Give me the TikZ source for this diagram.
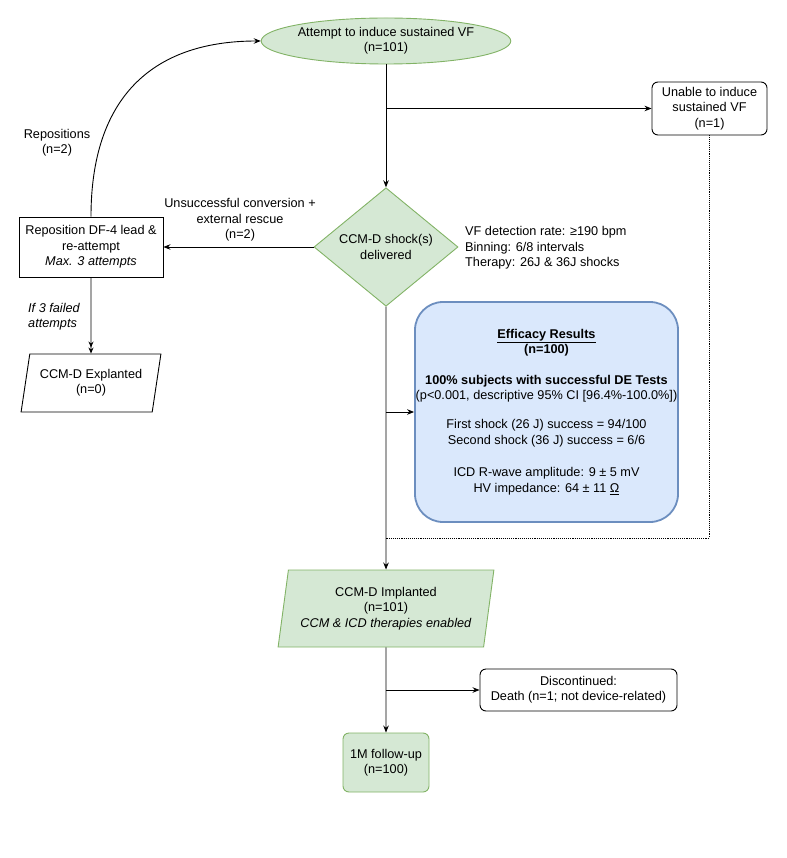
\documentclass[tikz,border=0pt]{standalone}
\usepackage{fontspec}
\setmainfont{Liberation Sans}
\usetikzlibrary{shapes.geometric,arrows.meta}
\definecolor{gfill}{HTML}{D5E8D4}
\definecolor{gline}{HTML}{82B366}
\definecolor{bfill}{HTML}{DAE8FC}
\definecolor{bline}{HTML}{6C8EBF}
\begin{document}
\begin{tikzpicture}[x=1pt,y=-1pt,
  every node/.style={font=\fontsize{12.7}{15.3}\selectfont, align=center, inner sep=0pt},
  arr/.style={-{Stealth[length=7pt,width=5.5pt]}, line width=0.9pt},
  plain/.style={line width=0.9pt},
  greenell/.style={ellipse, draw=gline, fill=gfill, line width=0.9pt},
  greendia/.style={diamond, draw=gline, fill=gfill, line width=0.9pt},
  whitebox/.style={rectangle, draw=black, line width=0.9pt, fill=white},
  roundbox/.style={rectangle, rounded corners=6pt, draw=black, line width=0.9pt, fill=white},
  greenround/.style={rectangle, rounded corners=6pt, draw=gline, fill=gfill, line width=0.9pt},
  bluebox/.style={rectangle, rounded corners=28pt, draw=bline, fill=bfill, line width=1.8pt},
  para/.style={trapezium, trapezium stretches=true, line width=0.9pt},
  lbl/.style={}
]
\useasboundingbox (0,0) rectangle (786,858);

\node[greenell, minimum width=228, minimum height=46] (ell) at (386,41)
  {Attempt to induce sustained VF\\(n=101)};
\node[roundbox, minimum width=115, minimum height=53] (unable) at (709.5,108.5)
  {Unable to induce\\sustained VF\\(n=1)};
\node[greendia, minimum width=144, minimum height=93] (dia) at (386,247)
  {CCM-D shock(s)\\delivered};
\node[anchor=west, align=left] (vfinfo) at (465,248)
  {VF detection rate: ≥190 bpm\\Binning: 6/8 intervals\\Therapy: 26J \& 36J shocks};
\node[whitebox, minimum width=144, minimum height=60] (rep) at (91,247)
  {Reposition DF-4 lead \&\\re-attempt\\\textit{Max. 3 attempts}};
\node[para, draw=black, fill=white, trapezium left angle=75, trapezium right angle=105,
  minimum width=140, minimum height=58] (expl) at (91,383)
  {CCM-D Explanted\\(n=0)};
\node[bluebox, minimum width=263, minimum height=220,
  font=\fontsize{12.7}{15.6}\selectfont] (eff) at (546.5,412)
  {\textbf{\underline{Efficacy Results}}\\\textbf{(n=100)}\\[15pt]
   \textbf{100\% subjects with successful DE Tests}\\
   (p<0.001, descriptive 95\% CI [96.4\%-100.0\%])\\[13pt]
   First shock (26 J) success = 94/100\\Second shock (36 J) success = 6/6\\[17pt]
   ICD R-wave amplitude: 9 ± 5 mV\\HV impedance: 64 ± 11 \underline{Ω}};
\node[para, draw=gline, fill=gfill, trapezium left angle=78, trapezium right angle=102,
  minimum width=216, minimum height=77] (impl) at (386,608.5)
  {CCM-D Implanted\\(n=101)\\\textit{CCM \& ICD therapies enabled}};
\node[roundbox, minimum width=197, minimum height=42] (disc) at (578.5,690)
  {Discontinued:\\Death (n=1; not device-related)};
\node[greenround, minimum width=86, minimum height=59] (fu) at (386,762.5)
  {1M follow-up\\(n=100)};

\node[lbl] (lrep) at (57,143) {Repositions\\(n=2)};
\node[lbl] (lunsucc) at (240,220) {Unsuccessful conversion +\\external rescue\\(n=2)};
\node[lbl, anchor=west, align=left] (lfail) at (28,317) {\textit{If 3 failed}\\\textit{attempts}};

\coordinate (b1) at (ell.south |- unable.west);
\coordinate (b2) at (dia.south |- eff.west);
\coordinate (b3) at (impl.south |- disc.west);
\coordinate (j1) at (386,538);

\draw[arr] (ell.south) -- (dia.north);
\draw[arr] (b1) -- (unable.west);
\draw[plain, densely dotted] (unable.south) |- (j1);
\draw[arr] (dia.west) -- (rep.east);
\draw[arr] (rep.north) .. controls (91,100) and (150,41) .. (ell.west);
\draw[plain, -{Stealth[length=6pt,width=5pt] Stealth[length=6pt,width=5pt]}] (rep.south) -- (expl.north);
\draw[arr] (dia.south) -- (impl.north);
\draw[arr] (b2) -- (eff.west);
\draw[arr] (impl.south) -- (fu.north);
\draw[arr] (b3) -- (disc.west);
\end{tikzpicture}
\end{document}
